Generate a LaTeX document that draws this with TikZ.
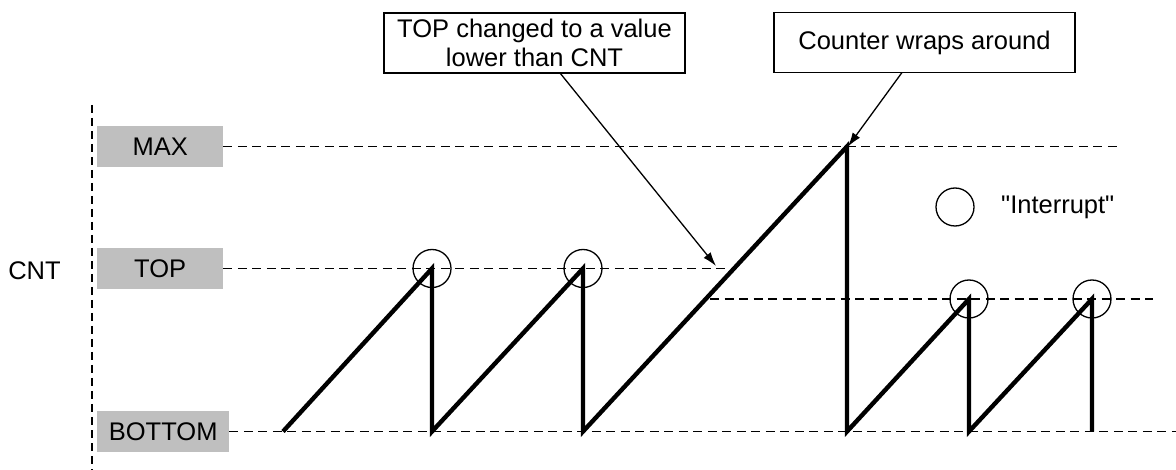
\documentclass[tikz,border=0pt]{standalone}
\usepackage{fontspec}
\setmainfont{Liberation Sans}[Ligatures=TeXOff]
\usetikzlibrary{arrows.meta}
\begin{document}
\begin{tikzpicture}[x=1pt,y=-1pt,
  every node/.style={font=\fontsize{25.5}{29}\selectfont, inner sep=0pt},
  lvl/.style={fill=black!25, minimum height=41pt, anchor=west},
  guide/.style={dash pattern=on 9pt off 5.5pt, line width=1.5pt},
  wave/.style={line width=4.4pt, line join=miter, line cap=butt},
  irq/.style={circle, draw, line width=1.3pt, minimum size=38pt},
  callout/.style={draw, line width=1.5pt, minimum height=60pt, align=center},
  pointer/.style={line width=1.3pt, -{Latex[length=14pt,width=9pt]}}]
\useasboundingbox (0,0) rectangle (1176,470);
% axis
\coordinate (ax0) at (92,105);
\coordinate (ax1) at (92,470);
\draw[dash pattern=on 8pt off 5pt, line width=1.5pt] (ax0) -- (ax1);
\node (cnt) at (34.5,271) {CNT};
% level labels
\node[lvl, minimum width=126pt] (max) at (97,146.5) {MAX};
\node[lvl, minimum width=126pt] (top) at (97,268.5) {TOP};
\node[lvl, minimum width=132pt] (bot) at (97,431.5) {BOTTOM};
% guide line ends
\coordinate (maxe) at (1122,146.5);
\coordinate (tope) at (733,268.5);
\coordinate (ntops) at (710,299);
\coordinate (ntope) at (1153,299);
\coordinate (bote) at (1176,431.5);
\draw[guide] (max.east) -- (maxe);
\draw[guide] (top.east) -- (tope);
\draw[guide] (ntops) -- (ntope);
\draw[guide] (bot.east) -- (bote);
% sawtooth
\coordinate (s0) at (283,431.5);
\coordinate (p1) at (432,268.5);
\coordinate (b1) at (432,431.5);
\coordinate (p2) at (583,268.5);
\coordinate (b2) at (583,431.5);
\coordinate (pm) at (847,146.5);
\coordinate (b3) at (847,431.5);
\coordinate (p3) at (969,299);
\coordinate (b4) at (969,431.5);
\coordinate (p4) at (1092,299);
\coordinate (b5) at (1092,431.5);
\draw[wave] (s0) -- (p1) -- (b1) -- (p2) -- (b2) -- (pm) -- (b3) -- (p3) -- (b4) -- (p4) -- (b5);
% interrupt circles
\node[irq] (i1) at (p1) {};
\node[irq] (i2) at (p2) {};
\node[irq] (i3) at (p3) {};
\node[irq] (i4) at (p4) {};
\node[irq] (leg) at (955,207) {};
\node[anchor=west] (legt) at (1001,207) {"Interrupt"};
% callouts
\node[callout, minimum width=301pt] (c1) at (534.5,43) {TOP changed to a value\\lower than CNT};
\node[callout, minimum width=301pt] (c2) at (924.5,42.5) {Counter wraps around};
\coordinate (a1s) at (560,73);
\coordinate (a1e) at (716,266);
\coordinate (a2s) at (902,72.5);
\coordinate (a2e) at (848,146.5);
\draw[pointer] (a1s) -- (a1e);
\draw[pointer] (a2s) -- (a2e);
\end{tikzpicture}
\end{document}
